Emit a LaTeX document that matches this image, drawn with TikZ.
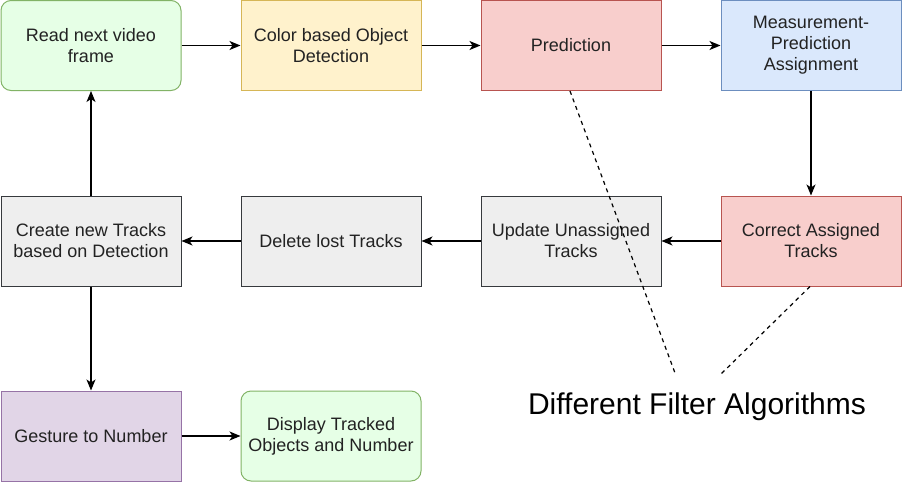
\documentclass[tikz,border=0pt]{standalone}
\usepackage{fontspec}
\setmainfont{Liberation Sans}
\usetikzlibrary{arrows.meta}
\definecolor{gfill}{HTML}{E6FFE6}\definecolor{gline}{HTML}{82B366}
\definecolor{yfill}{HTML}{FFF2CC}\definecolor{yline}{HTML}{D6B656}
\definecolor{rfill}{HTML}{F8CECC}\definecolor{rline}{HTML}{B85450}
\definecolor{bfill}{HTML}{DAE8FC}\definecolor{bline}{HTML}{6C8EBF}
\definecolor{kfill}{HTML}{EEEEEE}\definecolor{kline}{HTML}{36393D}
\definecolor{pfill}{HTML}{E1D5E7}\definecolor{pline}{HTML}{9673A6}
\definecolor{txt}{HTML}{222222}
\tikzset{
  box/.style={draw, minimum width=180pt, minimum height=90pt, align=center,
    inner sep=0pt, line width=1pt, text=txt, font=\fontsize{18}{21}\selectfont},
  greenbox/.style={box, fill=gfill, draw=gline, rounded corners=10pt},
  yellowbox/.style={box, fill=yfill, draw=yline},
  redbox/.style={box, fill=rfill, draw=rline},
  bluebox/.style={box, fill=bfill, draw=bline},
  graybox/.style={box, fill=kfill, draw=kline},
  purplebox/.style={box, fill=pfill, draw=pline},
  arr/.style={draw=black, line width=1.3pt, -{Stealth[length=11pt,width=9pt,inset=3pt]}},
  dashline/.style={draw=black, line width=1.2pt, dash pattern=on 4pt off 4pt},
}
\begin{document}
\begin{tikzpicture}[x=1pt,y=-1pt]
\useasboundingbox (0,0) rectangle (902,482);
\node[greenbox] (read) at (91,45.5) {Read next video\\frame};
\node[yellowbox] (color) at (331,45.5) {Color based Object\\Detection};
\node[redbox] (pred) at (571,45.5) {Prediction};
\node[bluebox] (meas) at (811,45.5) {Measurement-\\Prediction\\Assignment};
\node[redbox] (corr) at (811,241) {Correct Assigned\\Tracks};
\node[graybox] (upd) at (571,241) {Update Unassigned\\Tracks};
\node[graybox] (del) at (331,241) {Delete lost Tracks};
\node[graybox] (create) at (91,241) {Create new Tracks\\based on Detection};
\node[purplebox] (gest) at (91,436) {Gesture to Number};
\node[greenbox] (disp) at (331,436) {Display Tracked\\Objects and Number};
\node[text=black, font=\fontsize{30}{34}\selectfont, inner sep=0pt] (lbl) at (697,407) {Different Filter Algorithms};
\coordinate (d1) at (675,373);
\coordinate (d2) at (720,375);
\draw[arr] (read) -- (color);
\draw[arr] (color) -- (pred);
\draw[arr] (pred) -- (meas);
\draw[arr] (meas) -- (corr);
\draw[arr] (corr) -- (upd);
\draw[arr] (upd) -- (del);
\draw[arr] (del) -- (create);
\draw[arr] (create) -- (read);
\draw[arr] (create) -- (gest);
\draw[arr] (gest) -- (disp);
\draw[dashline] ([xshift=-1pt]pred.south) -- (d1);
\draw[dashline] ([xshift=-1pt]corr.south) -- (d2);
\end{tikzpicture}
\end{document}
